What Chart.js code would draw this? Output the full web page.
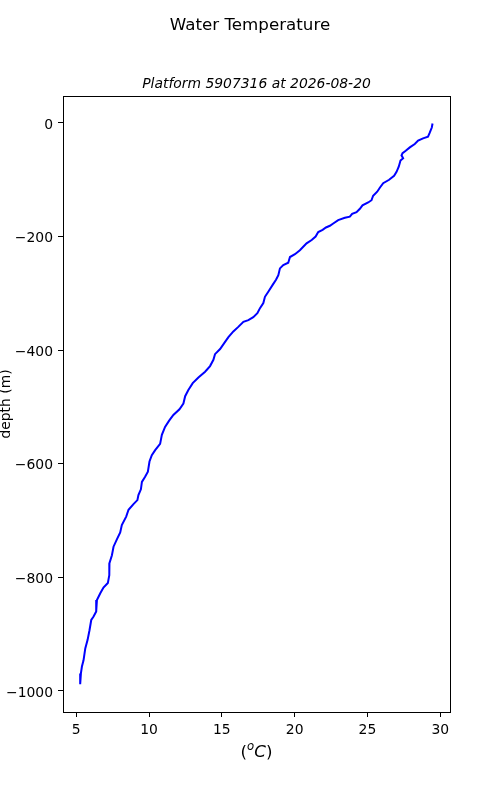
<!DOCTYPE html>
<html>
<head>
<meta charset="utf-8">
<script src="https://cdn.jsdelivr.net/npm/chart.js@4.4.1/dist/chart.umd.min.js"></script>
<style>
  html, body { margin: 0; padding: 0; background: #fff; }
  canvas { display: block; }
</style>
</head>
<body>
<canvas id="chart" width="500" height="800"></canvas>
<script>
// profile: temperature (degC) and depth (m)
const temperature = [
  29.47, 29.42, 29.28, 29.16, 28.82, 28.48, 28.25, 27.91, 27.63, 27.41,
  27.34, 27.45, 27.27, 27.15, 27.00, 26.83, 26.49, 26.08, 25.85, 25.67,
  25.39, 25.28, 25.05, 24.66, 24.48, 24.25, 23.95, 23.79, 23.45, 22.99,
  22.65, 22.42, 22.15, 21.92, 21.62, 21.44, 21.17, 20.82, 20.59, 20.36,
  20.02, 19.68, 19.56, 19.22, 18.99, 18.88, 18.72, 18.49, 18.19, 17.96,
  17.85, 17.62, 17.44, 17.16, 16.82, 16.48, 16.13, 15.79, 15.45, 15.15,
  14.88, 14.53, 14.42, 14.19, 13.85, 13.39, 13.00, 12.70, 12.48, 12.36,
  12.09, 11.67, 11.38, 11.10, 10.88, 10.76, 10.42, 10.19, 10.03, 9.92,
  9.73, 9.51, 9.44, 9.27, 9.20, 8.93, 8.59, 8.43, 8.13, 8.02,
  7.79, 7.56, 7.45, 7.28, 7.26, 7.28, 7.17, 6.87, 6.65, 6.42,
  6.37, 6.19, 6.03, 5.91, 5.78, 5.62, 5.50, 5.39, 5.32, 5.27
];
const depth = [
  -1, -8, -17, -24, -27, -31, -37, -43, -49, -53,
  -57, -62, -66, -77, -86, -93, -100, -106, -114, -121,
  -128, -136, -140, -145, -151, -157, -160, -165, -167, -171,
  -177, -181, -184, -188, -192, -200, -206, -212, -218, -224,
  -231, -236, -246, -250, -256, -268, -276, -285, -297, -306,
  -317, -326, -335, -342, -347, -350, -359, -367, -377, -388,
  -398, -407, -417, -428, -438, -448, -458, -470, -481, -494,
  -504, -514, -524, -535, -549, -565, -576, -585, -596, -614,
  -623, -632, -645, -655, -664, -671, -681, -693, -708, -721,
  -733, -746, -761, -775, -790, -796, -810, -818, -828, -840,
  -860, -869, -875, -893, -910, -925, -946, -957, -969, -988
];

const xTicks = [5, 10, 15, 20, 25, 30];
const yTicks = [0, -200, -400, -600, -800, -1000];

const mainTitle = "Water Temperature";
const subTitle = "Platform 5907316 at 2026-08-20";
const yLabel = "depth (m)";

const FONT = "'DejaVu Sans', sans-serif";
const points = temperature.map((t, i) => ({ x: t, y: depth[i] }));

// titles, axis labels and the closed frame
const decorations = {
  id: "decorations",
  beforeDraw(chart) {
    const ctx = chart.ctx;
    ctx.save();
    ctx.fillStyle = "#fff";
    ctx.fillRect(0, 0, chart.width, chart.height);
    ctx.restore();
  },
  afterDraw(chart) {
    const ctx = chart.ctx;
    const a = chart.chartArea;
    const cx = (a.left + a.right) / 2;
    ctx.save();
    ctx.fillStyle = "#000";
    ctx.textAlign = "center";
    ctx.textBaseline = "middle";

    ctx.font = "16.7px " + FONT;
    ctx.fillText(mainTitle, 250, 26);

    ctx.font = "italic 13.9px " + FONT;
    ctx.fillText(subTitle, cx, 84.5);

    // y label
    ctx.save();
    ctx.translate(6, (a.top + a.bottom) / 2);
    ctx.rotate(-Math.PI / 2);
    ctx.font = "13.9px " + FONT;
    ctx.fillText(yLabel, 0, 0);
    ctx.restore();

    // x label: (^oC)
    const yl = 753;
    const parts = [
      { t: "(", f: "16.7px " + FONT, dy: 0 },
      { t: "o", f: "italic 11.7px " + FONT, dy: -6 },
      { t: "C", f: "italic 16.7px " + FONT, dy: 0 },
      { t: ")", f: "16.7px " + FONT, dy: 0 }
    ];
    let total = 0;
    parts.forEach(p => { ctx.font = p.f; p.w = ctx.measureText(p.t).width; total += p.w; });
    let x = cx - total / 2;
    ctx.textAlign = "left";
    parts.forEach(p => {
      ctx.font = p.f;
      ctx.fillText(p.t, x, yl + p.dy);
      x += p.w;
    });

    // frame
    ctx.strokeStyle = "#000";
    ctx.lineWidth = 1;
    ctx.strokeRect(Math.round(a.left) + 0.5, Math.round(a.top) + 0.5,
      Math.round(a.right - a.left), Math.round(a.bottom - a.top));
    ctx.restore();
  }
};

new Chart(document.getElementById("chart"), {
  type: "scatter",
  data: {
    datasets: [{
      data: points,
      showLine: true,
      borderColor: "#0000ff",
      borderWidth: 2,
      pointRadius: 0,
      tension: 0,
      fill: false
    }]
  },
  options: {
    responsive: false,
    animation: false,
    layout: { padding: { left: 0, right: 50, top: 96, bottom: 0 } },
    plugins: {
      legend: { display: false },
      title: { display: false },
      tooltip: { enabled: false }
    },
    scales: {
      x: {
        type: "linear",
        min: 4.09,
        max: 30.67,
        afterFit: s => { s.height = 88; },
        afterBuildTicks: s => { s.ticks = xTicks.map(v => ({ value: v })); },
        grid: { drawOnChartArea: false, drawTicks: true, tickLength: 5, color: "#000" },
        border: { display: true, color: "#000" },
        ticks: {
          color: "#000",
          padding: 5,
          maxRotation: 0,
          font: { family: FONT, size: 13.9 },
          callback: v => String(v)
        }
      },
      y: {
        type: "linear",
        min: -1037,
        max: 47.5,
        afterFit: s => { s.width = 63; },
        afterBuildTicks: s => { s.ticks = yTicks.map(v => ({ value: v })); },
        grid: { drawOnChartArea: false, drawTicks: true, tickLength: 5, color: "#000" },
        border: { display: true, color: "#000" },
        ticks: {
          color: "#000",
          padding: 5,
          labelOffset: 2,
          font: { family: FONT, size: 13.9 },
          callback: v => (v < 0 ? "\u2212" + Math.abs(v) : String(v))
        }
      }
    }
  },
  plugins: [decorations]
});
</script>
</body>
</html>
